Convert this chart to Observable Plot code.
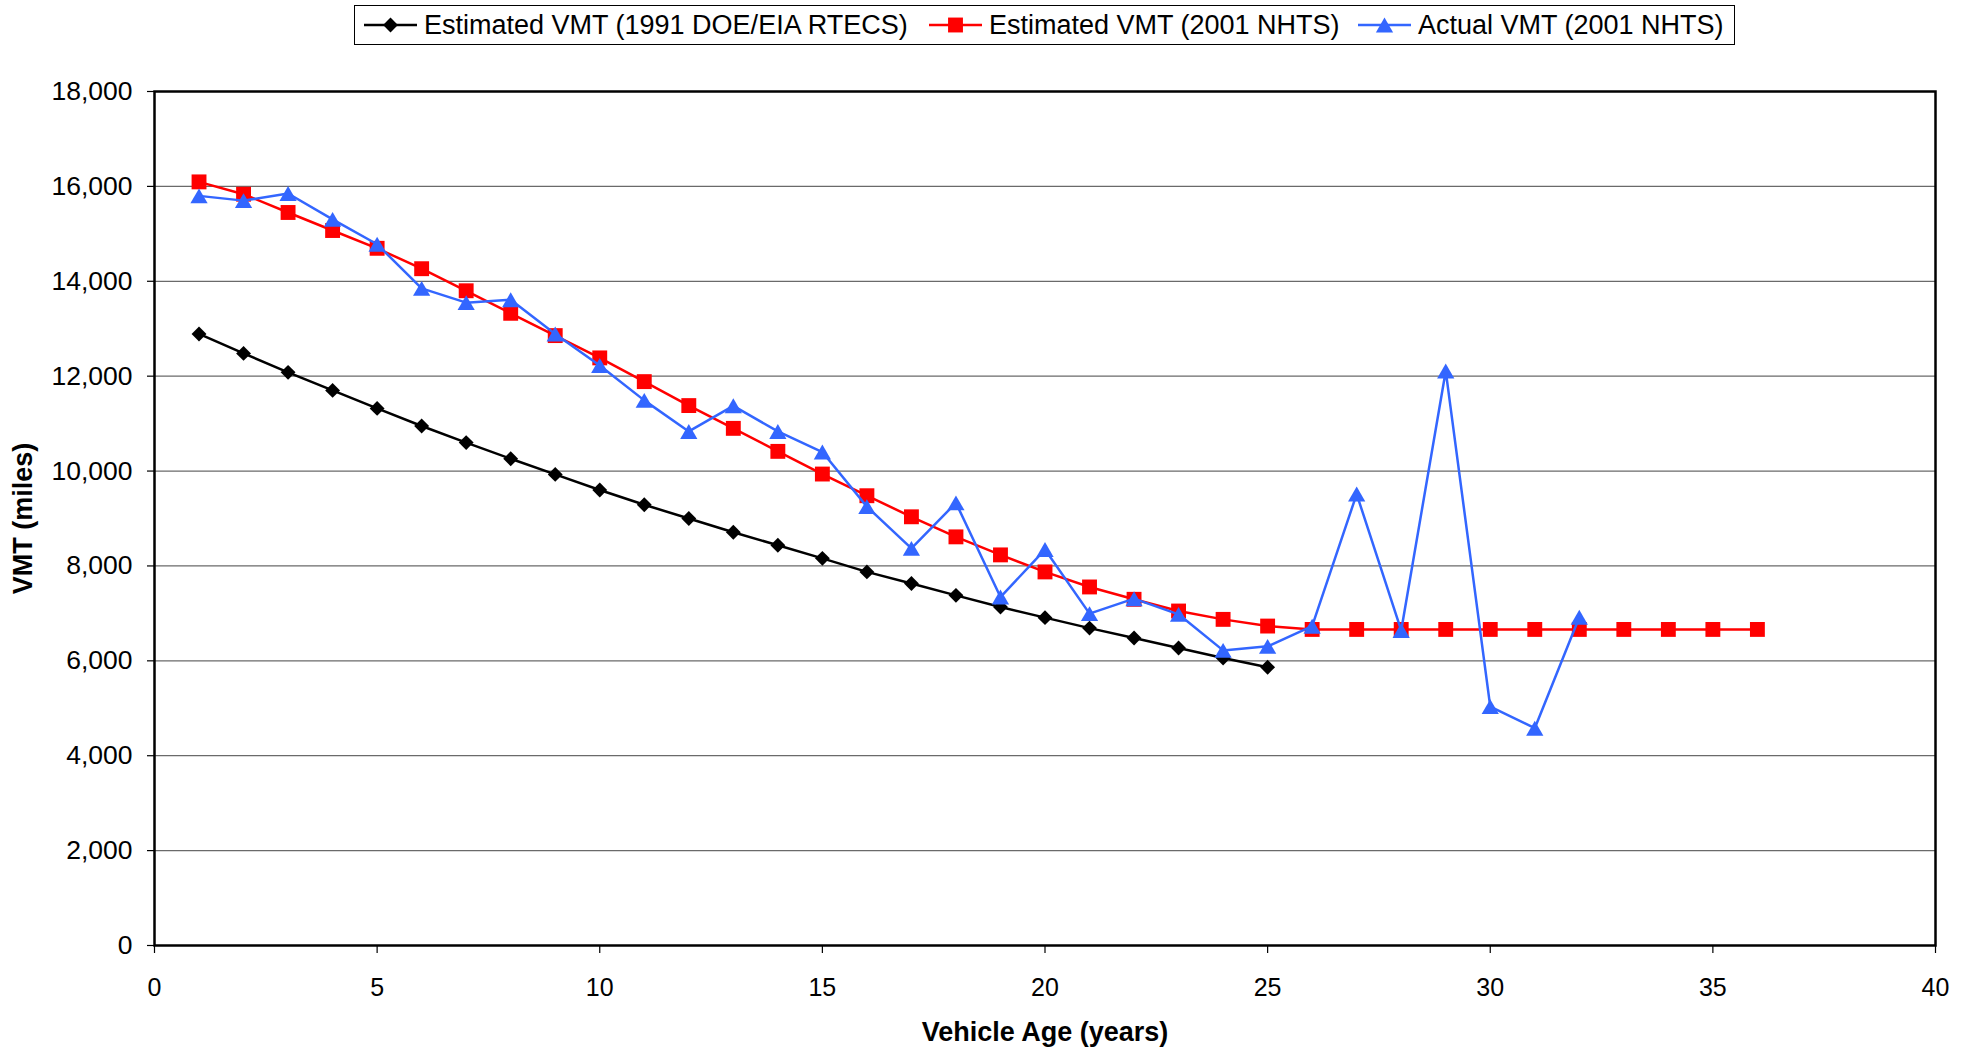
<!DOCTYPE html>
<html>
<head>
<meta charset="utf-8">
<script src="https://cdn.jsdelivr.net/npm/d3@7"></script>
<script src="https://cdn.jsdelivr.net/npm/@observablehq/plot@0.6"></script>
<style>
  html, body { margin: 0; padding: 0; background: white; }
  body { width: 1974px; height: 1050px; position: relative; overflow: hidden; font-family: "Liberation Sans", Arial, sans-serif; }
  #legend { position: absolute; left: 354px; top: 5px; width: 1379px; height: 38px; border: 1.5px solid black; background: white; }
  .item { position: absolute; top: 0; height: 38px; display: flex; align-items: center; font-size: 27px; color: black; white-space: nowrap; }
  .item svg { margin-right: 7px; }
  #chart { position: absolute; left: 0; top: 50px; }
</style>
</head>
<body>
<div id="legend"></div>
<div id="chart"></div>
<script>
// ---- Data ----
const seriesNames = ["Estimated VMT (1991 DOE/EIA RTECS)", "Estimated VMT (2001 NHTS)", "Actual VMT (2001 NHTS)"];
const seriesColors = ["#000000", "#FF0000", "#3366FF"];
const seriesSymbols = ["diamond2", "square", "triangle"];

const agesRtecs = [1,2,3,4,5,6,7,8,9,10,11,12,13,14,15,16,17,18,19,20,21,22,23,24,25];
const vmtRtecs = [12890,12480,12080,11700,11320,10950,10600,10260,9930,9600,9290,9000,8710,8435,8160,7875,7630,7380,7135,6910,6690,6480,6270,6060,5865];

const agesNhtsEst = [1,2,3,4,5,6,7,8,9,10,11,12,13,14,15,16,17,18,19,20,21,22,23,24,25,26,27,28,29,30,31,32,33,34,35,36];
const vmtNhtsEst = [16095,15835,15450,15070,14695,14265,13800,13325,12855,12385,11885,11380,10900,10415,9937,9480,9036,8613,8233,7874,7557,7297,7050,6874,6733,6662,6662,6662,6662,6662,6662,6662,6662,6662,6662,6662];

const agesNhtsAct = [1,2,3,4,5,6,7,8,9,10,11,12,13,14,15,16,17,18,19,20,21,22,23,24,25,26,27,28,29,30,31,32];
const vmtNhtsAct = [15800,15700,15850,15305,14780,13850,13550,13610,12890,12225,11490,10835,11375,10835,10400,9250,8370,9330,7345,8345,6995,7310,6980,6220,6305,6730,9515,6640,12110,5035,4580,6920];

const xTicks = [0,5,10,15,20,25,30,35,40];
const yTicks = [0,2000,4000,6000,8000,10000,12000,14000,16000,18000];

// ---- Build table ----
const toRows = (ages, vals, s) => ages.map((a, i) => ({age: a, vmt: vals[i], series: s}));
const rowsRtecs = toRows(agesRtecs, vmtRtecs, seriesNames[0]);
const rowsEst = toRows(agesNhtsEst, vmtNhtsEst, seriesNames[1]);
const rowsAct = toRows(agesNhtsAct, vmtNhtsAct, seriesNames[2]);

const markerR = [6.7, 8.4, 6.4];

const chart = Plot.plot({
  width: 1974,
  height: 1000,
  marginLeft: 154,
  marginRight: 39,
  marginTop: 41,
  marginBottom: 105,
  style: { fontFamily: "'Liberation Sans', Arial, sans-serif", fontSize: "25px", background: "white", color: "black" },
  x: { domain: [0, 40] },
  y: { domain: [0, 18000] },
  marks: [
    Plot.gridY(yTicks, { stroke: "#6a6a6a", strokeOpacity: 1, strokeWidth: 1.2 }),
    Plot.axisY(yTicks, { tickSize: 7, tickPadding: 15, tickFormat: d3.format(","), fontSize: 26.5, label: null, stroke: "black", strokeWidth: 1.2 }),
    Plot.axisX(xTicks, { tickSize: 8, tickPadding: 25, fontSize: 25, label: null, stroke: "black", strokeWidth: 1.2 }),
    Plot.frame({ stroke: "black", strokeWidth: 2.5 }),
    Plot.text(["VMT (miles)"], { frameAnchor: "left", dx: -131, rotate: -90, textAnchor: "middle", fontWeight: "bold", fontSize: 27 }),
    Plot.text(["Vehicle Age (years)"], { frameAnchor: "bottom", dy: 95, textAnchor: "middle", fontWeight: "bold", fontSize: 27 }),
    // series 1
    Plot.line(rowsRtecs, { x: "age", y: "vmt", stroke: seriesColors[0], strokeWidth: 2.5 }),
    Plot.dot(rowsRtecs, { x: "age", y: "vmt", symbol: seriesSymbols[0], fill: seriesColors[0], r: markerR[0] }),
    // series 2
    Plot.line(rowsEst, { x: "age", y: "vmt", stroke: seriesColors[1], strokeWidth: 2.5 }),
    Plot.dot(rowsEst, { x: "age", y: "vmt", symbol: seriesSymbols[1], fill: seriesColors[1], r: markerR[1] }),
    // series 3
    Plot.line(rowsAct, { x: "age", y: "vmt", stroke: seriesColors[2], strokeWidth: 2.5 }),
    Plot.dot(rowsAct, { x: "age", y: "vmt", symbol: seriesSymbols[2], fill: seriesColors[2], r: markerR[2], dy: 2.5 })
  ]
});
document.getElementById("chart").appendChild(chart);

// ---- Legend ----
const d3Symbols = { diamond2: d3.symbolDiamond2, square: d3.symbolSquare, triangle: d3.symbolTriangle };
const legendX = [9, 574, 1003];
const legend = document.getElementById("legend");
seriesNames.forEach((name, i) => {
  const path = d3.symbol(d3Symbols[seriesSymbols[i]], markerR[i] * markerR[i] * Math.PI)();
  const item = document.createElement("div");
  item.className = "item";
  item.style.left = legendX[i] + "px";
  item.innerHTML = `<svg width="53" height="38"><line x1="0" x2="53" y1="19" y2="19" stroke="${seriesColors[i]}" stroke-width="2.5"/><path d="${path}" transform="translate(26.5,${i === 2 ? 21.5 : 19})" fill="${seriesColors[i]}"/></svg><span>${name}</span>`;
  legend.appendChild(item);
});
</script>
</body>
</html>
